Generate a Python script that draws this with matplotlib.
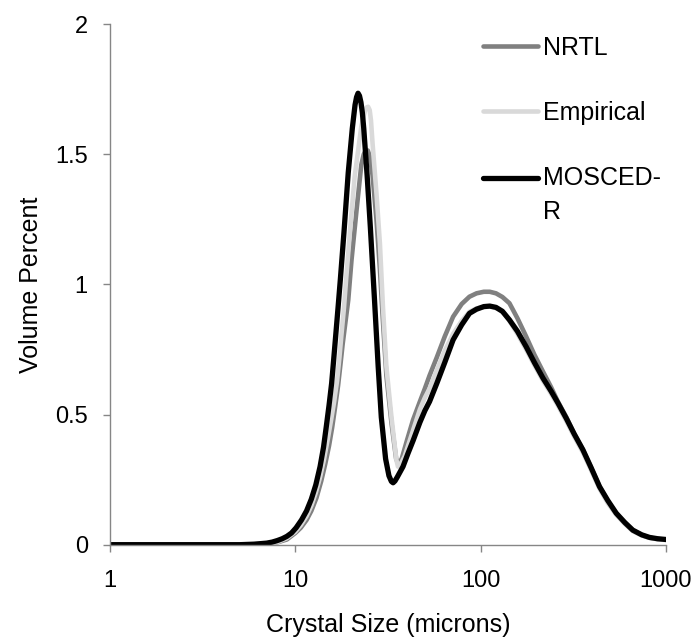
import numpy as np
import matplotlib
matplotlib.use("Agg")
import matplotlib.pyplot as plt
from matplotlib.legend_handler import HandlerLine2D

plt.rcParams['font.family'] = ['Liberation Sans', 'DejaVu Sans']

# NRTL
nrtl_x = [1, 5, 7, 8, 9, 10, 10.7, 11.5, 12.2, 13, 13.8, 14.5, 15.2, 15.8, 16.4, 17, 17.5, 18,
          18.6, 19.3, 20.1, 21.4, 22.7, 23.4, 23.8, 24.6, 25.3, 26.1, 27.4, 28.6, 29.7, 31.0,
          33.0, 35.0, 36.0, 37.5, 40, 43.2, 47, 50, 53, 58, 64, 71, 79, 87, 95, 104, 112, 121,
          131, 143, 158, 176, 195, 217, 240, 261, 290, 320, 356, 395, 438, 485, 539, 600, 662,
          740, 815, 900, 1000]
nrtl_y = [0, 0, 0.003, 0.009, 0.02, 0.045, 0.065, 0.095, 0.13, 0.18, 0.245, 0.31, 0.38, 0.45,
          0.53, 0.61, 0.69, 0.77, 0.85, 0.94, 1.094, 1.286, 1.46, 1.50, 1.51, 1.515, 1.49,
          1.42, 1.25, 1.06, 0.86, 0.65, 0.47, 0.33, 0.31, 0.33, 0.40, 0.48, 0.55, 0.60, 0.65,
          0.72, 0.80, 0.876, 0.925, 0.953, 0.966, 0.972, 0.972, 0.966, 0.952, 0.928, 0.87,
          0.80, 0.73, 0.665, 0.605, 0.55, 0.49, 0.425, 0.365, 0.295, 0.223, 0.168, 0.12,
          0.083, 0.055, 0.037, 0.027, 0.022, 0.019]

# Empirical
emp_x = [1, 5, 7, 8, 9, 10, 10.7, 11.5, 12.2, 12.9, 13.6, 14.3, 15.0, 15.6, 16.2, 16.8, 17.3,
         17.7, 18.3, 18.8, 19.8, 20.9, 22.7, 23.7, 24.2, 24.7, 25.2, 25.6, 26.1, 27.4, 28.6,
         29.7, 31.0, 33.0, 35.1, 35.8, 37.0, 38.9, 43.2, 47, 50, 53, 58, 64, 71, 79, 87, 95,
         104, 115, 125, 134, 143, 158, 176, 195, 217, 240, 261, 290, 320, 356, 395, 438, 485,
         539, 600, 662, 740, 815, 900, 1000]
emp_y = [0, 0, 0.004, 0.01, 0.025, 0.05, 0.075, 0.11, 0.15, 0.20, 0.26, 0.33, 0.41, 0.48,
         0.55, 0.63, 0.72, 0.80, 0.91, 1.02, 1.22, 1.414, 1.607, 1.665, 1.68, 1.683, 1.67,
         1.63, 1.543, 1.35, 1.158, 0.915, 0.684, 0.492, 0.326, 0.30, 0.31, 0.34, 0.44, 0.52,
         0.565, 0.60, 0.67, 0.745, 0.81, 0.86, 0.895, 0.908, 0.914, 0.915, 0.905, 0.89, 0.86,
         0.81, 0.75, 0.69, 0.63, 0.58, 0.535, 0.475, 0.415, 0.355, 0.285, 0.215, 0.16, 0.115,
         0.08, 0.052, 0.036, 0.026, 0.021, 0.018]

# MOSCED-R
mos_x = [1, 5, 6, 7, 7.5, 8, 8.5, 9, 9.54, 10.1, 10.8, 11.5, 12.2, 12.9, 13.6, 14.2, 14.7,
         15.2, 15.7, 16.1, 16.5, 17.0, 17.5, 18.3, 19.3, 20.3, 21.0, 21.4, 21.8, 22.2, 22.6,
         23.0, 23.4, 24.4, 25.4, 26.8, 28.0, 29.1, 30.7, 32.0, 33.0, 33.7, 34.5, 35.5, 38.1,
         40.5, 43.2, 47, 50, 53, 58, 64, 71, 79, 87, 95, 104, 112, 121, 131, 143, 158, 176,
         195, 217, 240, 261, 290, 320, 356, 395, 438, 485, 539, 600, 662, 740, 815, 900, 1000]
mos_y = [0, 0, 0.002, 0.006, 0.01, 0.016, 0.023, 0.032, 0.045, 0.065, 0.095, 0.13, 0.175,
         0.23, 0.30, 0.375, 0.455, 0.535, 0.62, 0.71, 0.80, 0.91, 1.02, 1.20, 1.43, 1.60,
         1.69, 1.72, 1.735, 1.725, 1.70, 1.66, 1.60, 1.42, 1.22, 0.93, 0.684, 0.49, 0.33,
         0.265, 0.243, 0.238, 0.245, 0.26, 0.30, 0.35, 0.40, 0.47, 0.515, 0.55, 0.62, 0.70,
         0.787, 0.845, 0.889, 0.905, 0.915, 0.917, 0.912, 0.897, 0.864, 0.82, 0.761, 0.70,
         0.64, 0.59, 0.545, 0.485, 0.425, 0.365, 0.295, 0.223, 0.17, 0.121, 0.085, 0.056,
         0.038, 0.028, 0.023, 0.02]


class FirstLineHandler(HandlerLine2D):
    # keep the legend line level with the first text line
    def __init__(self, shift, **kw):
        super().__init__(**kw)
        self.shift = shift

    def create_artists(self, legend, orig_handle, xdescent, ydescent, width, height,
                       fontsize, trans):
        arts = super().create_artists(legend, orig_handle, xdescent, ydescent, width,
                                      height, fontsize, trans)
        for a in arts:
            a.set_ydata(np.asarray(a.get_ydata()) + self.shift)
        return arts


fig = plt.figure(figsize=(6.97, 6.37), dpi=100)
ax = fig.add_axes([0.1578, 0.1449, 0.9555 - 0.1578, 0.9619 - 0.1449])

l1, = ax.plot(nrtl_x, nrtl_y, color='#808080', lw=3.3, label='NRTL', solid_capstyle='round')
l2, = ax.plot(emp_x, emp_y, color='#d9d9d9', lw=3.3, label='Empirical', solid_capstyle='round')
l3, = ax.plot(mos_x, mos_y, color='black', lw=3.8, label='MOSCED-\nR', solid_capstyle='round')

ax.set_xscale('log')
ax.set_xlim(1, 1000)
ax.set_ylim(0, 2)
ax.set_xticks([1, 10, 100, 1000])
ax.set_xticklabels(['1', '10', '100', '1000'])
ax.xaxis.set_minor_locator(matplotlib.ticker.NullLocator())
ax.set_yticks([0, 0.5, 1, 1.5, 2])
ax.set_yticklabels(['0', '0.5', '1', '1.5', '2'])

for s in ['top', 'right']:
    ax.spines[s].set_visible(False)
for s in ['left', 'bottom']:
    ax.spines[s].set_color('#868686')
    ax.spines[s].set_linewidth(1.0)
ax.tick_params(axis='both', colors='#868686', labelcolor='black', labelsize=17,
               length=5, width=1.0, direction='out')
ax.tick_params(axis='x', pad=13)
ax.tick_params(axis='y', pad=11)

ax.set_xlabel('Crystal Size (microns)', fontsize=18, labelpad=15)
ax.set_ylabel('Volume Percent', fontsize=18, labelpad=9)

leg = ax.legend(handles=[l1, l2, l3], loc='upper left', bbox_to_anchor=(0.639, 1.012),
                frameon=False, fontsize=18, handlelength=2.2, handletextpad=0.2,
                labelspacing=1.65, borderaxespad=0.3,
                handler_map={l3: FirstLineHandler(shift=12.5)})
leg.get_texts()[2].set_linespacing(1.5)

fig.savefig('out.png', dpi=100)
